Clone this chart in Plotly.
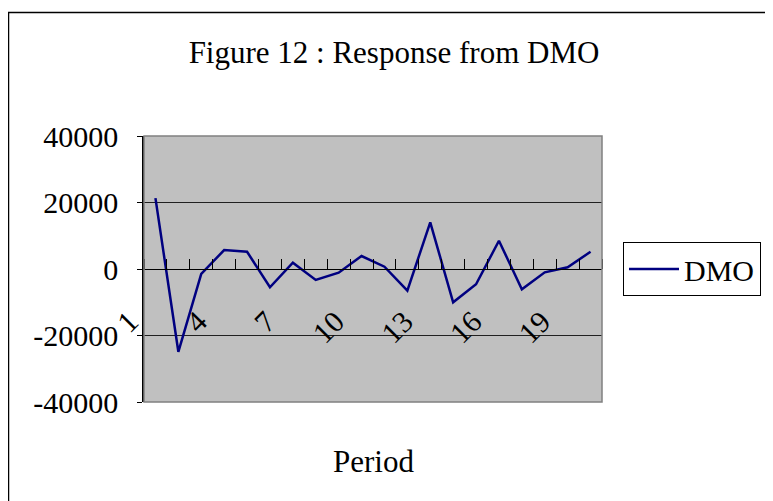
import plotly.graph_objects as go

periods = list(range(1, 21))
dmo = [21300, -24900, -1500, 5700, 5200, -5500, 1900, -3300, -1100, 3900,
       700, -6500, 14000, -10000, -4600, 8500, -6100, -1000, 500, 5200]
x_tickvals = [1, 4, 7, 10, 13, 16, 19]
x_ticktext = ["1", "4", "7", "10", "13", "16", "19"]
y_tickvals = [-40000, -20000, 0, 20000, 40000]
y_ticktext = ["-40000", "-20000", "0", "20000", "40000"]

FONT = "Liberation Serif"
OFF = 8  # page body margin
PAGE_W, PAGE_H = 773, 501
W, H = PAGE_W - OFF, PAGE_H - OFF
# plot area in page pixels
PL, PR, PT, PB = 144, 602, 136, 402
L, T = PL - OFF, PT - OFF
R, B = W - (PR - OFF), H - (PB - OFF)
pw, ph = PR - PL, PB - PT

def px_x(p):
    return (p - PL) / pw

def px_y(p):
    return (PB - p) / ph

fig = go.Figure()
fig.add_trace(go.Scatter(x=periods, y=dmo, mode="lines", name="DMO",
                         line=dict(color="#000080", width=2.5)))

fig.update_layout(
    width=W, height=H,
    margin=dict(l=L, r=R, t=T, b=B, pad=0),
    paper_bgcolor="white", plot_bgcolor="#C0C0C0",
    font=dict(family=FONT, size=30, color="black"),
    title=dict(text="Figure 12 : Response from DMO", x=(394 - OFF) / W, xref="container",
               xanchor="center", y=1 - (52 - OFF) / H, yref="container", yanchor="middle",
               font=dict(family=FONT, size=31, color="black")),
    showlegend=True,
    legend=dict(x=px_x(623), y=0.5, xanchor="left", yanchor="middle",
                bordercolor="black", borderwidth=1, bgcolor="white",
                font=dict(family=FONT, size=30), itemwidth=50),
    xaxis=dict(range=[0.5, 20.5], tickmode="array", tickvals=x_tickvals, ticktext=x_ticktext,
               tickangle=-45, ticks="", showgrid=False, zeroline=False,
               anchor="free", position=0.5, showline=True, linecolor="black", linewidth=1.2,
               ticklabelstandoff=22, ticklabelshift=-26,
               tickfont=dict(family=FONT, size=30),
               minor=dict(tick0=0.5, dtick=1, ticks="inside", ticklen=10,
                          tickcolor="black", tickwidth=1, showgrid=False)),
    yaxis=dict(range=[-40000, 40000], tickmode="array", tickvals=y_tickvals, ticktext=y_ticktext,
               showgrid=True, gridcolor="#202020", gridwidth=1, zeroline=False,
               ticks="outside", ticklen=5, tickcolor="black",
               showline=True, linecolor="black", linewidth=1.5,
               ticklabelstandoff=13, tickfont=dict(family=FONT, size=30)),
    annotations=[dict(text="Period", x=0.5, xref="paper", y=px_y(461), yref="paper",
                      xanchor="center", yanchor="middle", showarrow=False,
                      font=dict(family=FONT, size=31))],
    shapes=[
        dict(type="rect", xref="paper", yref="paper", x0=0, x1=1, y0=0, y1=1,
             line=dict(color="#808080", width=1.5), layer="above"),
        dict(type="rect", xref="paper", yref="paper", x0=px_x(8.5), x1=px_x(PAGE_W + 20),
             y0=px_y(PAGE_H + 20), y1=px_y(12.5), line=dict(color="black", width=1.5), layer="above"),
    ],
)

fig.write_html("out.html")
